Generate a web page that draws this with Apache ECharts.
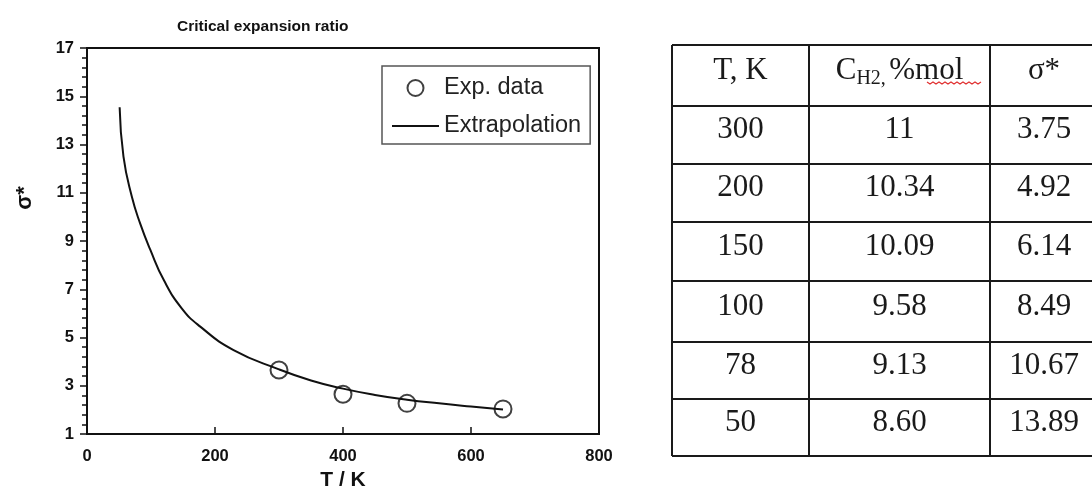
<!DOCTYPE html>
<html>
<head>
<meta charset="utf-8">
<script src="https://cdn.jsdelivr.net/npm/echarts@6/dist/echarts.min.js"></script>
<style>
  html, body { margin: 0; padding: 0; background: #fff; }
  #main { width: 1092px; height: 486px; }
</style>
</head>
<body>
<div id="main"></div>
<script>
// measured points (circles)
var expT = [300, 400, 500, 650];
var expSigma = [3.65, 2.65, 2.27, 2.04];

// extrapolation curve
var curveT = [51, 57, 70, 83, 99, 120, 148, 177, 229, 300, 350, 400, 450, 500, 550, 600, 650];
var curveSigma = [14.54, 12.5, 10.84, 9.73, 8.63, 7.38, 6.21, 5.45, 4.48, 3.68, 3.22, 2.88, 2.62, 2.42, 2.27, 2.14, 2.02];

// table on the right
var colTemp = ['300', '200', '150', '100', '78', '50'];
var colConc = ['11', '10.34', '10.09', '9.58', '9.13', '8.60'];
var colSigma = ['3.75', '4.92', '6.14', '8.49', '10.67', '13.89'];

var pairs = function (xs, ys) {
    return xs.map(function (x, i) { return [x, ys[i]]; });
};

var myChart = echarts.init(document.getElementById('main'));

// table layout
var colX = [672, 809, 990, 1098];
var rowY = [45, 106, 164, 222, 281, 342, 399, 456];
var serif = '"Liberation Serif", "Times New Roman", serif';
var sans = '"Liberation Sans", Arial, sans-serif';
var graphics = [];

// cell lines
colX.forEach(function (x) {
    graphics.push({ type: 'line', shape: { x1: x, y1: rowY[0], x2: x, y2: rowY[rowY.length - 1] },
        style: { stroke: '#1a1a1a', lineWidth: 2 } });
});
rowY.forEach(function (y) {
    graphics.push({ type: 'line', shape: { x1: colX[0], y1: y, x2: colX[3], y2: y },
        style: { stroke: '#1a1a1a', lineWidth: 2 } });
});

var cellText = function (col, row, txt) {
    var cx = (colX[col] + colX[col + 1]) / 2;
    var cy = (rowY[row] + rowY[row + 1]) / 2 - 5;
    graphics.push({ type: 'text', x: cx, y: cy,
        style: { text: txt, font: '31px ' + serif, fill: '#1a1a1a', align: 'center', verticalAlign: 'middle' } });
};

// header
cellText(0, 0, 'T, K');
cellText(2, 0, 'σ*');
graphics.push({ type: 'text', x: (colX[1] + colX[2]) / 2, y: (rowY[0] + rowY[1]) / 2 - 5,
    style: {
        text: '{a|C}{b|H2,} {a|%mol}',
        align: 'center', verticalAlign: 'middle', fill: '#1a1a1a',
        rich: {
            a: { fontFamily: serif, fontSize: 31, color: '#1a1a1a' },
            b: { fontFamily: serif, fontSize: 20, color: '#1a1a1a', verticalAlign: 'bottom', padding: [0, 0, -3, 0] }
        }
    } });
// red spell-check squiggle under "mol"
var sq = [];
for (var k = 0; k <= 18; k++) { sq.push([927 + k * 3, 82 + (k % 2 === 0 ? 0 : 2)]); }
graphics.push({ type: 'polyline', shape: { points: sq }, style: { stroke: '#e03030', lineWidth: 1.2, fill: null } });

for (var r = 0; r < colTemp.length; r++) {
    cellText(0, r + 1, colTemp[r]);
    cellText(1, r + 1, colConc[r]);
    cellText(2, r + 1, colSigma[r]);
}

// y axis name, placed above the middle as in the source
graphics.push({ type: 'text', x: 25, y: 198, rotation: Math.PI / 2,
    style: { text: 'σ*', font: 'bold 22px ' + sans, fill: '#111', align: 'center', verticalAlign: 'middle' } });

var option = {
    animation: false,
    backgroundColor: '#fff',
    textStyle: { fontFamily: sans },
    title: {
        text: 'Critical expansion ratio',
        left: 172,
        top: 14,
        textStyle: { fontSize: 15.5, fontWeight: 'bold', color: '#111', fontFamily: sans }
    },
    legend: {
        left: 382,
        top: 66,
        orient: 'vertical',
        itemWidth: 47,
        itemHeight: 16,
        itemGap: 14,
        padding: [10, 9, 6, 9],
        borderColor: '#555',
        borderWidth: 1.5,
        borderRadius: 0,
        textStyle: { fontSize: 23.5, color: '#222', fontFamily: sans },
        data: [
            { name: 'Exp. data' },
            { name: 'Extrapolation', itemStyle: { opacity: 0 } }
        ]
    },
    grid: {
        left: 87,
        top: 48,
        width: 512,
        height: 386,
        show: true,
        borderColor: '#111',
        borderWidth: 2,
        containLabel: false,
        outerBoundsMode: 'none'
    },
    xAxis: {
        type: 'value',
        min: 0,
        max: 800,
        interval: 200,
        name: 'T / K',
        nameLocation: 'middle',
        nameGap: 31,
        nameTextStyle: { fontSize: 21, fontWeight: 'bold', color: '#111', fontFamily: sans },
        axisLine: { lineStyle: { color: '#111', width: 2 } },
        axisTick: { inside: true, length: 7, lineStyle: { color: '#111', width: 1.5 } },
        axisLabel: { fontSize: 16.5, fontWeight: 'bold', color: '#111', margin: 14 },
        splitLine: { show: false }
    },
    yAxis: {
        type: 'value',
        min: 1,
        max: 17,
        interval: 2,
        axisLine: { lineStyle: { color: '#111', width: 2 } },
        axisTick: { length: 7, lineStyle: { color: '#111', width: 1.5 } },
        minorTick: { show: true, splitNumber: 5, length: 5, lineStyle: { color: '#111', width: 1.5 } },
        axisLabel: { fontSize: 16.5, fontWeight: 'bold', color: '#111', margin: 13 },
        splitLine: { show: false }
    },
    series: [
        {
            name: 'Exp. data',
            type: 'scatter',
            symbol: 'circle',
            symbolSize: 17,
            itemStyle: { color: 'rgba(0,0,0,0)', borderColor: '#111', borderWidth: 2 },
            z: 3,
            data: pairs(expT, expSigma)
        },
        {
            name: 'Extrapolation',
            type: 'line',
            smooth: true,
            symbol: 'none',
            lineStyle: { color: '#111', width: 2 },
            itemStyle: { color: '#111' },
            data: pairs(curveT, curveSigma)
        }
    ],
    graphic: graphics
};

myChart.setOption(option);
</script>
</body>
</html>
